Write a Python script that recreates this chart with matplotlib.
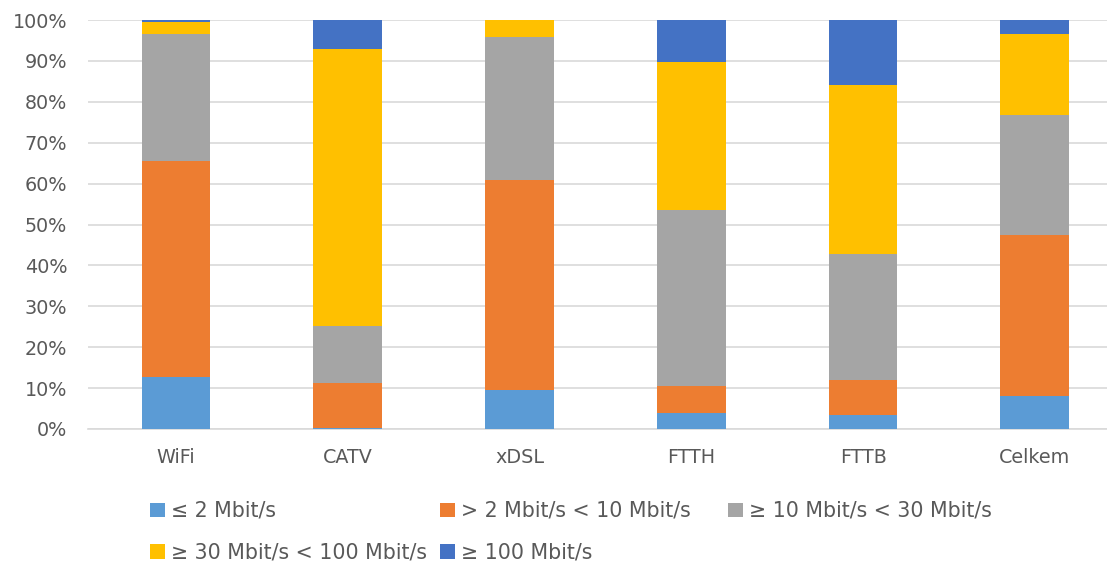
import numpy as np
import matplotlib.pyplot as plt
from matplotlib.patches import Patch
from matplotlib.ticker import PercentFormatter

plt.rcParams['font.family'] = ['DejaVu Sans']

# data (share of connections, %)
categories = ["WiFi", "CATV", "xDSL", "FTTH", "FTTB", "Celkem"]
series_labels = ["≤ 2 Mbit/s", "> 2 Mbit/s < 10 Mbit/s", "≥ 10 Mbit/s < 30 Mbit/s",
                 "≥ 30 Mbit/s < 100 Mbit/s", "≥ 100 Mbit/s"]
le_2 = [12.7, 0.3, 9.6, 3.8, 3.3, 8.1]
gt2_lt10 = [52.9, 10.9, 51.2, 6.7, 8.7, 39.3]
ge10_lt30 = [30.9, 13.9, 35.1, 43.1, 30.8, 29.4]
ge30_lt100 = [3.0, 67.7, 4.1, 36.2, 41.3, 19.9]
ge_100 = [0.5, 7.2, 0.0, 10.2, 15.9, 3.3]
colors = ["#5B9BD5", "#ED7D31", "#A5A5A5", "#FFC000", "#4472C4"]

series = [le_2, gt2_lt10, ge10_lt30, ge30_lt100, ge_100]

fig = plt.figure(figsize=(11.07, 5.64), dpi=100)
ax = fig.add_axes([0.0795, 0.2394, 0.9205, 0.7251])

x = np.arange(len(categories))
bottom = np.zeros(len(categories))
handles = []
for vals, col, lab in zip(series, colors, series_labels):
    vals = np.array(vals)
    ax.bar(x, vals, 0.4, bottom=bottom, color=col, zorder=3)
    bottom += vals
    handles.append(Patch(facecolor=col, label=lab))

ax.set_ylim(0, 100)
ax.set_xlim(-0.512, 5.42)
ax.set_yticks(np.arange(0, 101, 10))
ax.yaxis.set_major_formatter(PercentFormatter(decimals=0))
ax.set_xticks(x)
ax.set_xticklabels(categories)
ax.grid(axis="y", color="#D9D9D9", lw=1.2, zorder=0)
for s in ["top", "right", "left"]:
    ax.spines[s].set_visible(False)
ax.spines["bottom"].set_color("#D9D9D9")
ax.spines["bottom"].set_linewidth(1.2)
ax.tick_params(length=0, labelsize=13.8, colors="#595959")
ax.tick_params(axis="x", pad=14)
ax.tick_params(axis="y", pad=15)

# legend: equal-width columns, filled row by row
col_items = [[0, 3], [1, 4], [2]]
col_x = [0.1265, 0.3885, 0.6485]
for items, lx in zip(col_items, col_x):
    lg = fig.legend([handles[i] for i in items], [series_labels[i] for i in items],
                    loc="upper left", bbox_to_anchor=(lx, 0.13),
                    frameon=False, fontsize=14.8, labelcolor="#595959",
                    handlelength=0.7, handleheight=0.7, handletextpad=0.3,
                    labelspacing=1.05, borderpad=0)

fig.savefig("out.png", dpi=100)
